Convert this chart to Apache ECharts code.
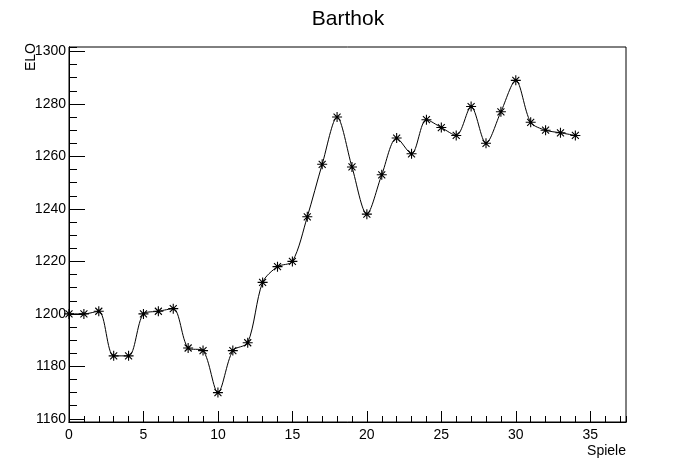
<!DOCTYPE html>
<html>
<head>
<meta charset="utf-8">
<script src="https://cdn.jsdelivr.net/npm/echarts@6/dist/echarts.min.js"></script>
<style>html,body{margin:0;padding:0;background:#fff;}#c{width:696px;height:472px;}</style>
</head>
<body>
<div id="c"></div>
<script>
var games = [0,1,2,3,4,5,6,7,8,9,10,11,12,13,14,15,16,17,18,19,20,21,22,23,24,25,26,27,28,29,30,31,32,33,34];
var elo = [1200,1200,1201,1184,1184,1200,1201,1202,1187,1186,1170,1186,1189,1212,1218,1220,1237,1257,1275,1256,1238,1253,1267,1261,1274,1271,1268,1279,1265,1277,1289,1273,1270,1269,1268];
var titleText = 'Barthok';
var xTitle = 'Spiele';
var yTitle = 'ELO';
var xRange = [0, 37.4];
var yRange = [1158.8, 1301.7];

var FONT = 'Liberation Sans, Arial, Helvetica, sans-serif';
var chart = echarts.init(document.getElementById('c'), null, {renderer: 'canvas'});
var data = games.map(function (g, i) { return [g, elo[i]]; });
var star = 'path://M0,4L8,4M4,0L4,8M1.2,1.2L6.8,6.8M6.8,1.2L1.2,6.8';
var blackLine = {show: true, lineStyle: {color: '#000', width: 1}};
var plain = function (v) { return String(v); };

chart.setOption({
  animation: false,
  backgroundColor: '#fff',
  title: {
    text: titleText, left: 'center', top: 4,
    textStyle: {fontFamily: FONT, fontSize: 21, fontWeight: 'normal', color: '#000'}
  },
  grid: {left: 69, right: 70, top: 47, bottom: 50, show: true, borderColor: '#000', borderWidth: 1, backgroundColor: 'transparent'},
  xAxis: [{
    type: 'value', position: 'bottom', min: xRange[0], max: xRange[1], interval: 5,
    axisLine: blackLine,
    axisTick: {show: true, inside: true, length: 11, lineStyle: {color: '#000'}},
    axisLabel: {show: true, color: '#000', fontFamily: FONT, fontSize: 14, margin: 6, showMaxLabel: false, formatter: plain},
    splitLine: {show: false}
  }, {
    type: 'value', position: 'bottom', min: xRange[0], max: xRange[1], interval: 1,
    axisLine: blackLine,
    axisTick: {show: true, inside: true, length: 6, lineStyle: {color: '#000'}},
    axisLabel: {show: false},
    splitLine: {show: false}
  }],
  yAxis: [{
    type: 'value', position: 'left', min: yRange[0], max: yRange[1], splitNumber: 7,
    axisLine: blackLine,
    axisTick: {show: true, inside: true, length: 16, lineStyle: {color: '#000'}},
    axisLabel: {show: true, color: '#000', fontFamily: FONT, fontSize: 14, margin: 3, showMinLabel: false, showMaxLabel: false, formatter: plain},
    splitLine: {show: false}
  }, {
    type: 'value', position: 'left', min: yRange[0], max: yRange[1], splitNumber: 28,
    axisLine: blackLine,
    axisTick: {show: true, inside: true, length: 8, lineStyle: {color: '#000'}},
    axisLabel: {show: false},
    splitLine: {show: false}
  }],
  graphic: [{
    type: 'text', x: 626, y: 444,
    style: {text: xTitle, font: '14px ' + FONT, fill: '#000', align: 'right', verticalAlign: 'top'}
  }, {
    type: 'text', x: 38, y: 43, rotation: Math.PI / 2,
    style: {text: yTitle, font: '14px ' + FONT, fill: '#000', align: 'right', verticalAlign: 'bottom'}
  }],
  series: [{
    type: 'line', xAxisIndex: 0, yAxisIndex: 0, data: data,
    smooth: 0.3,
    symbol: star, symbolSize: 10, showSymbol: true, showAllSymbol: true,
    lineStyle: {color: '#000', width: 1},
    itemStyle: {color: 'rgba(0,0,0,0)', borderColor: '#000', borderWidth: 1.1},
    z: 5
  }]
});
</script>
</body>
</html>
